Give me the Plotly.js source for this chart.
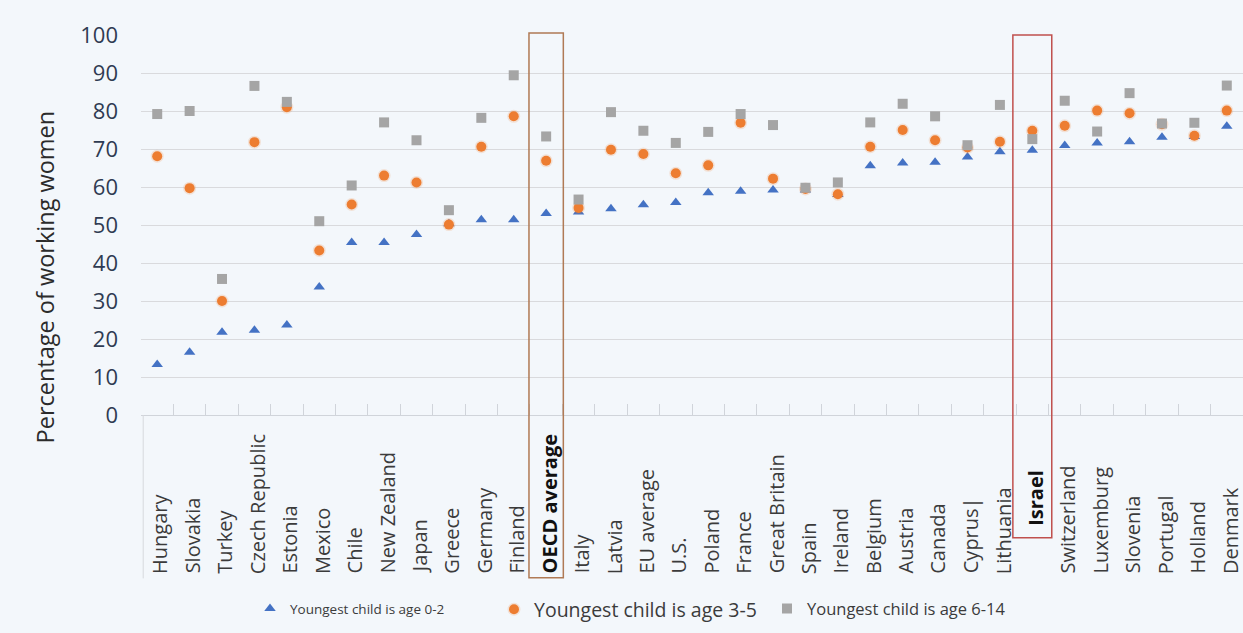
<!DOCTYPE html>
<html>
<head>
<meta charset="utf-8">
<script src="https://cdn.plot.ly/plotly-3.0.1.min.js"></script>
<style>
  html, body { margin: 0; padding: 0; background: #f3f7fb; }
  #chart { width: 1243px; height: 633px; }
</style>
</head>
<body>
<div id="chart"></div>
<script>
// Employment rate of mothers by age of youngest child (%)
const categories = [
  "Hungary", "Slovakia", "Turkey", "Czech Republic", "Estonia", "Mexico", "Chile",
  "New Zealand", "Japan", "Greece", "Germany", "Finland", "OECD average", "Italy",
  "Latvia", "EU average", "U.S.", "Poland", "France", "Great Britain", "Spain",
  "Ireland", "Belgium", "Austria", "Canada", "Cyprus|", "Lithuania", "Israel",
  "Switzerland", "Luxemburg", "Slovenia", "Portugal", "Holland", "Denmark"
];

const age0to2 = [
  13.3, 16.5, 21.8, 22.3, 23.7, 33.7, 45.4, 45.4, 47.5, 50.3, 51.4, 51.4, 53.0, 53.4,
  54.3, 55.3, 55.9, 58.5, 58.9, 59.2, 59.2, 58.0, 65.6, 66.3, 66.5, 67.9, 69.3, 69.7,
  70.9, 71.6, 71.9, 73.1, 73.3, 76.0
];

const age3to5 = [
  68.1, 59.7, 30.0, 71.8, 81.0, 43.3, 55.4, 63.0, 61.2, 50.1, 70.6, 78.6, 66.9, 54.5,
  69.8, 68.7, 63.6, 65.7, 76.9, 62.2, 59.5, 58.1, 70.6, 75.0, 72.3, 70.4, 71.9, 74.8,
  76.1, 80.1, 79.4, 76.5, 73.5, 80.1
];

const age6to14 = [
  79.2, 80.0, 35.8, 86.6, 82.4, 51.0, 60.4, 77.0, 72.3, 53.9, 78.2, 89.4, 73.3, 56.7,
  79.7, 74.8, 71.6, 74.5, 79.2, 76.3, 59.8, 61.2, 77.0, 81.9, 78.6, 71.0, 81.6, 72.6,
  82.7, 74.6, 84.7, 76.7, 76.9, 86.7
];

const seriesNames = [
  "Youngest child is age 0-2",
  "Youngest child is age 3-5",
  "Youngest child is age 6-14"
];

const highlighted = ["OECD average", "Israel"];

const FONT = "Open Sans, Noto Sans, sans-serif";
const TEXT = "#3b3b3b";

const traces = [
  {
    type: "scatter", mode: "markers", name: seriesNames[0],
    x: categories, y: age0to2, legend: "legend",
    marker: { symbol: "triangle-up", size: 10, color: "#4472c4" },
    cliponaxis: false
  },
  {
    type: "scatter", mode: "markers", name: seriesNames[1],
    x: categories, y: age3to5, legend: "legend2",
    marker: { symbol: "circle", size: 10, color: "#ed7d31",
              line: { color: "rgba(237,125,49,0.18)", width: 3 } },
    cliponaxis: false
  },
  {
    type: "scatter", mode: "markers", name: seriesNames[2],
    x: categories, y: age6to14, legend: "legend3",
    marker: { symbol: "square", size: 10, color: "#a5a5a5" },
    cliponaxis: false
  }
];

// Category labels written upward, bottom-aligned under the axis;
// the Israel label sits inside its highlight frame
const labelAnnotations = categories.map(c => ({
  xref: "x", yref: "paper", x: c, y: c === "Israel" ? -0.296 : -0.423,
  xanchor: "center", yanchor: "bottom", xshift: 3,
  textangle: -90, showarrow: false,
  text: highlighted.includes(c) ? "<b>" + c + "</b>" : c,
  font: { family: FONT, size: 20, color: highlighted.includes(c) ? "#111111" : TEXT }
}));

const layout = {
  width: 1243, height: 633,
  margin: { l: 141, r: 0, t: 35, b: 218 },
  paper_bgcolor: "#f3f7fb",
  plot_bgcolor: "#f3f7fb",
  showlegend: true,
  xaxis: {
    type: "category",
    range: [-0.5, categories.length - 0.5],
    showticklabels: false,
    showgrid: false,
    ticks: "inside", tickson: "boundaries", ticklen: 11, tickcolor: "#d0d4da",
    showline: true, linecolor: "#d0d4da", linewidth: 1,
    zeroline: false, fixedrange: true
  },
  yaxis: {
    range: [0, 100], dtick: 10,
    showgrid: true, gridcolor: "#d9dadd", gridwidth: 1,
    zeroline: false, showline: false,
    ticks: "", ticklabelstandoff: 22,
    tickfont: { family: FONT, size: 22, color: "#2f3b52" },
    fixedrange: true
  },
  legend: {
    x: (250 - 141) / 1102, xanchor: "left", y: -0.51, yanchor: "middle",
    orientation: "h", bgcolor: "rgba(0,0,0,0)",
    font: { family: FONT, size: 13.5, color: TEXT }
  },
  legend2: {
    x: (494 - 141) / 1102, xanchor: "left", y: -0.512, yanchor: "middle",
    orientation: "h", bgcolor: "rgba(0,0,0,0)",
    font: { family: FONT, size: 19.5, color: TEXT }
  },
  legend3: {
    x: (767 - 141) / 1102, xanchor: "left", y: -0.51, yanchor: "middle",
    orientation: "h", bgcolor: "rgba(0,0,0,0)",
    font: { family: FONT, size: 16.5, color: TEXT }
  },
  shapes: [
    // highlight frame around the OECD average column
    { type: "rect", xref: "x", yref: "paper",
      x0: "OECD average", x1: "OECD average", x0shift: -0.53, x1shift: 0.53,
      y0: -0.428, y1: 1.005,
      line: { color: "#b07a55", width: 1.5 }, fillcolor: "rgba(0,0,0,0)" },
    // highlight frame around the Israel column
    { type: "rect", xref: "x", yref: "paper",
      x0: "Israel", x1: "Israel", x0shift: -0.6, x1shift: 0.6,
      y0: -0.323, y1: 1.0,
      line: { color: "#c0504d", width: 1.5 }, fillcolor: "rgba(0,0,0,0)" },
    // left border of the label area
    { type: "line", xref: "paper", yref: "paper", x0: 0.002, x1: 0.002, y0: 0, y1: -0.43,
      line: { color: "#d6d9de", width: 1 } }
  ],
  annotations: labelAnnotations.concat([
    { xref: "paper", yref: "paper", x: (45 - 141) / 1102, y: 0.362,
      xanchor: "center", yanchor: "middle", textangle: -90, showarrow: false,
      text: "Percentage of working women",
      font: { family: FONT, size: 23.5, color: "#2b2b2b" } }
  ])
};

Plotly.newPlot("chart", traces, layout, { displayModeBar: false, responsive: false });
</script>
</body>
</html>
